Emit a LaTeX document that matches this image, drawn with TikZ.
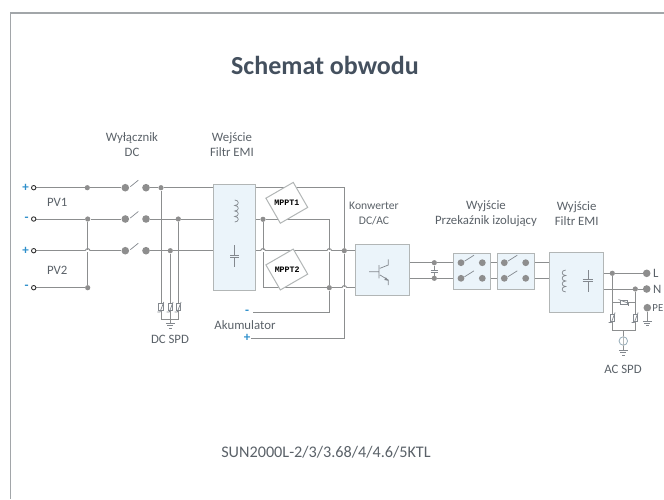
\documentclass[tikz,border=0pt]{standalone}
\usepackage{fontspec}
\setmainfont{Carlito}
\newfontfamily\chipfont{Liberation Mono}
\usetikzlibrary{backgrounds}
\definecolor{wirec}{HTML}{8C8E8F}
\definecolor{dotc}{HTML}{8E8E8E}
\definecolor{boxfill}{HTML}{EBF4FA}
\definecolor{boxline}{HTML}{B2B6B6}
\definecolor{framec}{HTML}{A2A6A9}
\definecolor{labelc}{HTML}{5A6168}
\definecolor{titlec}{HTML}{44505E}
\definecolor{signc}{HTML}{2E8FCB}
\newcommand{\hump}[2]{\fill[white] (#1-2.4,#2-0.8) rectangle (#1+2.4,#2+0.8);
  \draw[wire] (#1-2.4,#2) .. controls (#1-1.6,#2-2.8) and (#1+1.6,#2-2.8) .. (#1+2.4,#2);}
\tikzset{
  wire/.style={draw=wirec,line width=1pt},
  sym/.style={draw=labelc!75,line width=0.7pt},
  box/.style={draw=boxline,fill=boxfill,line width=1pt,inner sep=0pt},
  chip/.style={draw=boxline,fill=white,line width=1pt,rotate=30,minimum width=31.6pt,minimum height=28.9pt,inner sep=0pt},
  chiptext/.style={font=\chipfont\bfseries\fontsize{8.3}{9}\selectfont,text=black,inner sep=0pt},
  junct/.style={circle,fill=dotc,inner sep=0pt,minimum size=5.2pt},
  contact/.style={circle,fill=dotc,inner sep=0pt,minimum size=7.6pt},
  term/.style={circle,draw=black!80,fill=white,line width=0.9pt,inner sep=0pt,minimum size=4.4pt},
  lbl/.style={font=\fontsize{12.8}{15.5}\selectfont,text=labelc,inner sep=0pt},
  sign/.style={font=\bfseries\fontsize{13}{14}\selectfont,text=signc,inner sep=0pt},
  vari/.pic={\draw[sym,fill=white] (-2.4,-4) rectangle (2.4,3);
    \draw[sym] (-3.6,4.5) -- (-1,4.5) -- (2.8,-5.5);},
  groundsym/.pic={\draw[sym] (-4.5,0) -- (4.5,0) (-3,2.2) -- (3,2.2) (-1.2,4.4) -- (1.2,4.4);},
}
\begin{document}
\begin{tikzpicture}[x=1pt,y=-1pt]
\useasboundingbox (0,0) rectangle (664,499);
\draw[framec,line width=1.6pt] (664,13) -- (10.5,13) -- (10.5,499);
\node[font=\bfseries\fontsize{26}{30}\selectfont,text=titlec,inner sep=0pt] (title) at (325,65) {Schemat obwodu};
\node[font=\fontsize{16.2}{18}\selectfont,text=labelc,inner sep=0pt] (model) at (326,452) {SUN2000L-2/3/3.68/4/4.6/5KTL};

% labels
\node[lbl,align=center] (lsw) at (132,144.5) {Wyłącznik\\DC};
\node[lbl,align=center] (lemi) at (232,144.5) {Wejście\\Filtr EMI};
\node[lbl] (lpv1) at (57.3,202) {PV1};
\node[lbl] (lpv2) at (57.3,270) {PV2};
\node[lbl,align=center,font=\fontsize{11.6}{15.5}\selectfont] (lconv) at (374,213.5) {Konwerter\\DC/AC};
\node[lbl,align=center] (lrel) at (486,213.5) {Wyjście\\Przekaźnik izolujący};
\node[lbl,align=center] (loemi) at (576.7,213.5) {Wyjście\\Filtr EMI};
\node[lbl] (ldc) at (170,339) {DC SPD};
\node[lbl] (lac) at (623,369) {AC SPD};
\node[lbl] (lak) at (245,325) {Akumulator};
\node[lbl,anchor=west] (ll) at (653,273.3) {L};
\node[lbl,anchor=west] (ln) at (653,289) {N};
\node[lbl,anchor=east,font=\fontsize{10.8}{12}\selectfont] (lpe) at (663.5,308) {PE};

% signs
\node[sign] (p1) at (25.7,187.7) {+};
\node[sign] (m1) at (26.5,219) {-};
\node[sign] (p2) at (25.7,250.7) {+};
\node[sign] (m2) at (26.5,287.7) {-};
\node[sign] (mb) at (247,312.5) {-};
\node[sign] (pb) at (247,338) {+};

% boxes
\node[box,minimum width=42.4pt,minimum height=105.7pt] (ifilt) at (234.5,237.2) {};
\node[box,minimum width=54.3pt,minimum height=51.4pt] (conv) at (382.2,270) {};
\node[box,minimum width=37.4pt,minimum height=35.7pt] (rel1) at (472,271.2) {};
\node[box,minimum width=37pt,minimum height=35.7pt] (rel2) at (515.8,271.2) {};
\node[box,minimum width=54.3pt,minimum height=59.6pt] (ofilt) at (576.2,282.5) {};
\node[chip] (mppt1) at (286.8,202.8) {};
\node[chip] (mppt2) at (286.8,269.5) {};
\node[chiptext] (t1m) at (286.8,202.5) {MPPT1};
\node[chiptext] (t2m) at (287.2,269.5) {MPPT2};

% terminals and free ends
\node[term] (a1) at (33.7,187.7) {};
\node[term] (a2) at (33.7,219) {};
\node[term] (a3) at (33.7,250.7) {};
\node[term] (a4) at (33.7,287.7) {};
\coordinate (bm) at (252.7,312.7);
\coordinate (bp) at (250.5,338);

% junctions
\node[junct] (j1) at (87.3,187.7) {};
\node[junct] (j2) at (87.7,219) {};
\node[junct] (j4) at (87.7,287.7) {};
\node[junct] (k1) at (161,187.7) {};
\node[junct] (k2) at (178.3,219) {};
\node[junct] (k3) at (170.3,250.7) {};
\node[junct] (f1) at (263,219.3) {};
\node[junct] (f2) at (329.3,287.7) {};
\node[junct] (f3) at (344.3,250.7) {};
\node[junct] (c1) at (434.3,262.7) {};
\node[junct] (c2) at (434.3,278.3) {};
\node[junct] (o1) at (612.3,273.3) {};
\node[junct] (o2) at (635.3,289) {};
\coordinate (f4) at (263,287.7);
\coordinate (f5) at (329.3,219.3);
\coordinate (f6) at (344.3,187.3);
\coordinate (f7) at (329.3,312.7);
\coordinate (f8) at (344.3,338);

% switches
\foreach \n/\y in {1/187.7,2/219,3/250.7}{
  \node[contact] (sl\n) at (125.3,\y) {};
  \node[contact] (sr\n) at (146,\y) {};
  \draw[sym] (sl\n) ++(5,-1) -- ++(8,-6.5);
}
\foreach \n/\y in {1/262.7,2/278.3}{
  \node[contact,minimum size=6.8pt] (ra\n) at (461,\y) {};
  \node[contact,minimum size=6.8pt] (rb\n) at (482.3,\y) {};
  \node[contact,minimum size=6.8pt] (rc\n) at (504.3,\y) {};
  \node[contact,minimum size=6.8pt] (rd\n) at (525.7,\y) {};
  \draw[sym] (ra\n) ++(3.5,-1.5) -- ++(9.5,-6);
  \draw[sym] (rc\n) ++(3.5,-1.5) -- ++(9.5,-6);
}

% output contacts
\node[contact] (cl) at (646.7,273.3) {};
\node[contact] (cn) at (646.7,289) {};
\node[contact] (cpe) at (647.3,307.7) {};
\coordinate (gpe) at (647.3,321);

% SPD nodes
\coordinate (dsb) at (170.3,319.3);
\coordinate (db1) at (161,319.3);
\coordinate (db3) at (178.3,319.3);
\coordinate (dg) at (170.3,323.5);
\coordinate (as1) at (612.3,330.7);
\coordinate (as2) at (635.3,330.7);
\coordinate (asm) at (623.3,330.7);
\coordinate (ah1) at (612.3,302.3);
\coordinate (ah2) at (635.3,302.3);
\coordinate (ag) at (623.3,350.5);
\node[circle,draw=boxline!80!signc,fill=white,line width=0.8pt,inner sep=0pt,minimum size=8.5pt] (agap) at (623.3,341) {};

% SPD symbols
\pic at (161,307.5) {vari};
\pic at (170.3,307.5) {vari};
\pic at (178.3,307.5) {vari};
\pic at (612.3,318) {vari};
\pic at (635.3,318) {vari};
\pic[rotate=90] at (624,302.3) {vari};
\pic at (dg) {groundsym};
\pic at (ag) {groundsym};
\pic at (gpe) {groundsym};
\draw[sym,draw=boxline] (agap.north) -- (agap.south);

% filter and converter symbols
\draw[sym] (234.7,200) .. controls (239.5,200) and (239.5,205.5) .. (234.7,205.5)
  .. controls (239.5,205.5) and (239.5,211) .. (234.7,211)
  .. controls (239.5,211) and (239.5,216.5) .. (234.7,216.5)
  .. controls (239.5,216.5) and (239.5,222) .. (234.7,222);
\draw[sym] (234.7,245) -- (234.7,255) (230,255) -- (239.3,255)
  (230,257.7) -- (239.3,257.7) (234.7,257.7) -- (234.7,267);
\draw[sym] (565.7,270) .. controls (561,270) and (561,275.5) .. (565.7,275.5)
  .. controls (561,275.5) and (561,281) .. (565.7,281)
  .. controls (561,281) and (561,286.5) .. (565.7,286.5)
  .. controls (561,286.5) and (561,292) .. (565.7,292);
\draw[sym] (588.3,270) -- (588.3,279.3) (582.7,279.3) -- (593,279.3)
  (582.7,281.7) -- (593,281.7) (588.3,281.7) -- (588.3,291.7);
\draw[sym] (369,271.7) -- (379,271.7) (379,265) -- (379,278.3)
  (380,268.3) -- (388.3,265) -- (388.3,259.3)
  (388.3,285) -- (388.3,280) -- (380,275);
\fill[labelc!75] (388.3,280.8) -- (384.3,279.9) -- (385.8,277.2) -- cycle;

\begin{scope}[on background layer]
% PV side
\draw[wire] (a1) -- (j1) -- (sl1);
\draw[wire] (a2) -- (j2) -- (sl2);
\draw[wire] (a3) -- (sl3);
\draw[wire] (a4) -- (j4);
\draw[wire] (j2) -- (j4);
\hump{87.7}{250.7}
\draw[wire] (sr1) -- (k1) -- (k1 -| ifilt.west);
\draw[wire] (sr2) -- (k2) -- (k2 -| ifilt.west);
\draw[wire] (sr3) -- (k3) -- (k3 -| ifilt.west);
% DC SPD
\draw[wire] (k1) -- (db1) -- (dsb);
\draw[wire] (k2) -- (db3) -- (dsb);
\draw[wire] (k3) -- (dsb) -- (dg);
% DC bus
\draw[wire] (f1 -| ifilt.east) -- (f1) -- (f5) -- (f2);
\draw[wire] (f2) -- (f7) -- (bm);
\draw[wire] (f3 -| ifilt.east) -- (f3) -- (f3 -| conv.west);
\draw[wire] (f6 -| ifilt.east) -- (f6) -- (f3);
\draw[wire] (f3) -- (f8) -- (bp);
\draw[wire] (f1) -- (f4) -- (f2) -- (f2 -| conv.west);
\hump{263}{250.7}
\hump{329.3}{250.7}
\hump{344.3}{287.7}
% AC side
\draw[wire] (c1 -| conv.east) -- (c1) -- (ra1);
\draw[wire] (c2 -| conv.east) -- (c2) -- (ra2);
\draw[wire] (c1) -- (434.3,270) (c2) -- (434.3,272.5);
\draw[sym] (430.5,270) -- (438,270) (430.5,272.5) -- (438,272.5);
\foreach \n in {1,2}{
  \draw[wire] (rb\n -| rel1.east) -- (rb\n -| rel2.west);
  \draw[wire] (rd\n -| rel2.east) -- (rd\n -| ofilt.west);
}
\draw[wire] (o1 -| ofilt.east) -- (o1) -- (cl);
\draw[wire] (o2 -| ofilt.east) -- (o2) -- (cn);
\draw[wire] (o1) -- (as1) -- (as2) -- (o2);
\draw[wire] (ah1) -- (ah2);
\draw[wire] (asm) -- (agap);
\draw[wire] (agap) -- (ag);
\draw[wire] (cpe) -- (gpe);
\end{scope}
\end{tikzpicture}
\end{document}
